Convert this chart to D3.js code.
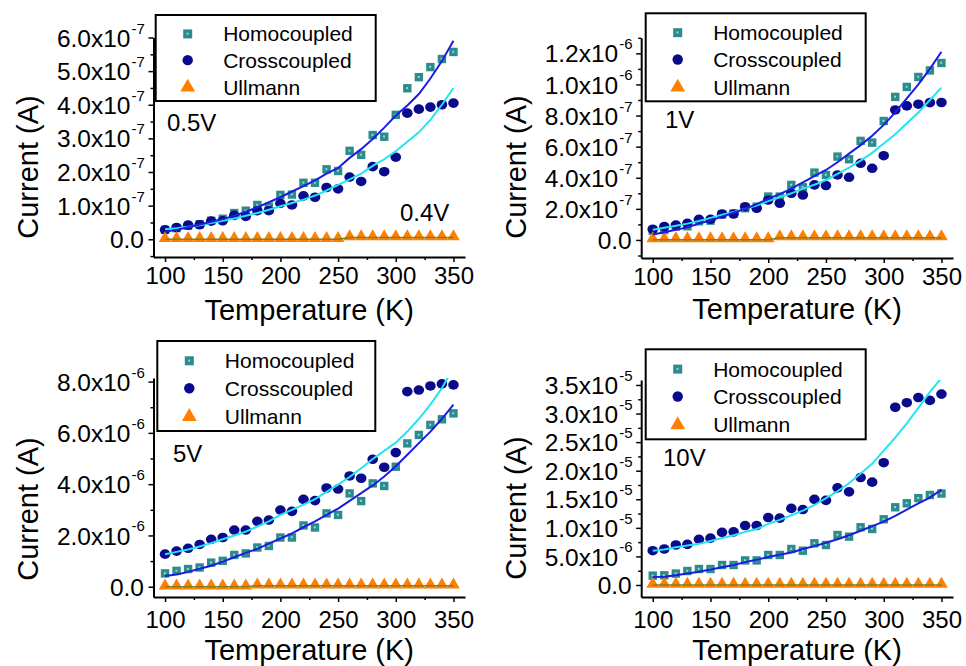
<!DOCTYPE html>
<html><head><meta charset="utf-8">
<script src="https://cdn.jsdelivr.net/npm/d3@7"></script>
<style>
body{margin:0;background:#fff}
svg{display:block}
text{font-family:"Liberation Sans",Arial,Helvetica,sans-serif;fill:#000}
</style>
</head><body>
<svg id="c" width="966" height="666"></svg>
<script>
// ---------------- DATA ----------------
const temperature = [100,110,120,130,140,150,160,170,180,190,200,210,220,230,240,250,260,270,280,290,300,310,320,330,340,350];
const seriesNames = ["Homocoupled","Crosscoupled","Ullmann"];

// Panel 0.5 V (values in units of 1e-7 A)
const homo_05V     = [0.28,0.33,0.40,0.45,0.55,0.61,0.78,0.85,1.02,0.97,1.32,1.33,1.68,1.68,2.08,2.03,2.63,2.51,3.10,3.05,3.70,4.49,4.82,5.12,5.36,5.57];
const cross_05V    = [0.28,0.35,0.42,0.43,0.54,0.55,0.71,0.68,0.85,0.85,1.07,1.02,1.29,1.25,1.54,1.50,1.85,1.72,2.16,2.01,2.44,3.75,3.87,3.93,4.00,4.05];
const homoFit_05V  = [0.22,0.28,0.36,0.44,0.52,0.60,0.70,0.82,0.95,1.10,1.25,1.42,1.58,1.75,1.95,2.12,2.42,2.68,2.98,3.32,3.68,3.98,4.32,4.78,5.30,5.90];
const crossFit_05V = [0.30,0.33,0.37,0.42,0.48,0.55,0.62,0.70,0.78,0.88,0.98,1.08,1.18,1.30,1.45,1.62,1.78,1.95,2.18,2.38,2.62,2.90,3.18,3.55,4.00,4.50];
const ullmann_04V  = [0,0,0,0,0,0,0,0,0,0,0,0,0,0,0,0,0.05,0.05,0.05,0.05,0.05,0.05,0.05,0.05,0.05,0.05];

// Panel 1 V (units of 1e-7 A)
const homo_1V      = [0.60,0.64,0.86,0.88,1.20,1.24,1.65,1.70,2.04,2.14,2.79,2.79,3.54,3.39,4.33,4.18,5.36,5.19,6.37,6.26,7.65,9.20,9.84,10.48,10.90,11.38];
const cross_1V     = [0.69,0.86,0.96,1.07,1.33,1.33,1.67,1.67,2.14,2.04,2.57,2.36,3.00,2.89,3.54,3.50,4.18,4.03,4.93,4.61,5.42,8.36,8.62,8.73,8.83,8.84];
const homoFit_1V   = [0.35,0.50,0.65,0.82,1.05,1.25,1.50,1.75,2.00,2.30,2.65,2.95,3.30,3.70,4.10,4.50,5.00,5.55,6.10,6.70,7.40,8.20,9.10,10.00,11.00,12.10];
const crossFit_1V  = [0.65,0.78,0.92,1.05,1.22,1.42,1.62,1.80,2.00,2.22,2.50,2.75,3.00,3.30,3.55,3.85,4.25,4.65,5.10,5.60,6.20,6.80,7.50,8.20,9.00,9.80];
const ullmann_1V   = [0.02,0.02,0.02,0.02,0.02,0.02,0.02,0.02,0.02,0.02,0.02,0.15,0.15,0.15,0.15,0.15,0.15,0.15,0.15,0.15,0.15,0.15,0.15,0.15,0.15,0.15];

// Panel 5 V (units of 1e-6 A)
const homo_5V      = [0.52,0.62,0.69,0.75,0.94,1.01,1.24,1.30,1.53,1.59,1.92,1.92,2.39,2.31,2.86,2.80,3.64,3.34,4.03,3.93,4.68,5.59,5.92,6.31,6.53,6.76];
const cross_5V     = [1.27,1.39,1.50,1.65,1.85,1.92,2.21,2.21,2.55,2.60,2.99,2.94,3.41,3.36,3.85,3.81,4.32,4.23,4.97,4.66,5.23,7.61,7.67,7.83,7.91,7.87];
const homoFit_5V   = [0.42,0.48,0.58,0.70,0.82,0.98,1.15,1.32,1.48,1.68,1.88,2.08,2.32,2.55,2.80,3.05,3.35,3.65,3.95,4.30,4.70,5.15,5.60,6.05,6.55,7.10];
const crossFit_5V  = [1.27,1.36,1.45,1.57,1.70,1.85,2.00,2.15,2.35,2.55,2.80,3.00,3.20,3.42,3.70,3.98,4.28,4.62,4.98,5.30,5.62,6.05,6.55,7.10,7.75,8.55];
const ullmann_5V   = [0,0,0,0,0,0,0,0,0.04,0.04,0.04,0.04,0.04,0.04,0.04,0.04,0.04,0.04,0.04,0.04,0.04,0.04,0.04,0.04,0.04,0.04];

// Panel 10 V (units of 1e-5 A)
const homo_10V     = [0.163,0.17,0.20,0.245,0.28,0.28,0.35,0.35,0.43,0.43,0.525,0.525,0.63,0.60,0.73,0.70,0.875,0.846,1.01,0.98,1.15,1.36,1.43,1.52,1.575,1.60];
const cross_10V    = [0.60,0.63,0.70,0.71,0.80,0.82,0.92,0.93,1.04,1.04,1.18,1.17,1.34,1.32,1.50,1.48,1.70,1.63,1.88,1.80,2.14,3.11,3.19,3.28,3.23,3.34];
const homoFit_10V  = [0.14,0.145,0.17,0.20,0.23,0.27,0.31,0.35,0.40,0.44,0.49,0.53,0.57,0.63,0.68,0.74,0.80,0.87,0.95,1.03,1.11,1.21,1.32,1.43,1.53,1.67];
const crossFit_10V = [0.60,0.62,0.66,0.69,0.72,0.77,0.82,0.87,0.93,0.98,1.07,1.14,1.22,1.30,1.40,1.52,1.64,1.78,1.95,2.12,2.35,2.58,2.83,3.10,3.38,3.62];
const ullmann_10V  = [0,0,0,0,0,0,0,0,0,0,0,0,0,0,0,0,0,0,0,0,0,0,0,0,0,0];

// Tick values and labels
const xTicks = [100,150,200,250,300,350];
const xMinorTicks = [125,175,225,275,325];
const yTicks_05V = [0,1,2,3,4,5,6];
const yLabels_05V = [["0.0",""],["1.0x10","-7"],["2.0x10","-7"],["3.0x10","-7"],["4.0x10","-7"],["5.0x10","-7"],["6.0x10","-7"]];
const yMinor_05V = [-0.5,0.5,1.5,2.5,3.5,4.5,5.5];
const yTicks_1V = [0,2,4,6,8,10,12];
const yLabels_1V = [["0.0",""],["2.0x10","-7"],["4.0x10","-7"],["6.0x10","-7"],["8.0x10","-7"],["1.0x10","-6"],["1.2x10","-6"]];
const yMinor_1V = [-1,1,3,5,7,9,11,13];
const yTicks_5V = [0,2,4,6,8];
const yLabels_5V = [["0.0",""],["2.0x10","-6"],["4.0x10","-6"],["6.0x10","-6"],["8.0x10","-6"]];
const yMinor_5V = [1,3,5,7];
const yTicks_10V = [0,0.5,1,1.5,2,2.5,3,3.5];
const yLabels_10V = [["0.0",""],["5.0x10","-6"],["1.0x10","-5"],["1.5x10","-5"],["2.0x10","-5"],["2.5x10","-5"],["3.0x10","-5"],["3.5x10","-5"]];
const yMinor_10V = [0.25,0.75,1.25,1.75,2.25,2.75,3.25];

// ---------------- STYLE / LAYOUT ----------------
const C = {homo:"#2a8c8c", homoInner:"#9fd0d0", cross:"#0a0a8c", ull:"#ff8000",
           blue:"#1c1ce0", cyan:"#22e4f2", olive:"#7f8020"};

const panels = [
  {homo:homo_05V, cross:cross_05V, homoFit:homoFit_05V, crossFit:crossFit_05V, ull:ullmann_04V,
   yt:yTicks_05V, yl:yLabels_05V, ym:yMinor_05V,
   x0:153.5, x1:465, yDom:[-0.527,6.0], yRange:[257,37.5], xLabY:27,
   legend:{x:155.7,y:15,w:220,h:86}, notes:[{t:"0.5V",x:167,y:131},{t:"0.4V",x:400,y:221}],
   yTitle:{x:38,y:167}, xTitleY:320},
  {homo:homo_1V, cross:cross_1V, homoFit:homoFit_1V, crossFit:crossFit_1V, ull:ullmann_1V,
   yt:yTicks_1V, yl:yLabels_1V, ym:yMinor_1V,
   x0:641.2, x1:953, yDom:[-1.16,13.0], yRange:[258,37.8], xLabY:27,
   legend:{x:645.7,y:13.3,w:220,h:88}, notes:[{t:"1V",x:665,y:128}],
   yTitle:{x:526,y:167}, xTitleY:319},
  {homo:homo_5V, cross:cross_5V, homoFit:homoFit_5V, crossFit:crossFit_5V, ull:ullmann_5V,
   yt:yTicks_5V, yl:yLabels_5V, ym:yMinor_5V,
   x0:153.5, x1:465, yDom:[-0.40,8.14], yRange:[597,378], xLabY:31,
   legend:{x:157.3,y:341,w:218,h:90}, notes:[{t:"5V",x:173,y:462}],
   yTitle:{x:38,y:509}, xTitleY:660},
  {homo:homo_10V, cross:cross_10V, homoFit:homoFit_10V, crossFit:crossFit_10V, ull:ullmann_10V,
   yt:yTicks_10V, yl:yLabels_10V, ym:yMinor_10V,
   x0:641.2, x1:953, yDom:[-0.21,3.587], yRange:[597,380], xLabY:31,
   legend:{x:645.7,y:349.3,w:220,h:90}, notes:[{t:"10V",x:663,y:466}],
   yTitle:{x:526,y:508}, xTitleY:660}
];

const svg = d3.select("#c");

panels.forEach((p,pi) => {
  const x = d3.scaleLinear().domain([90,360]).range([p.x0,p.x1]);
  const y = d3.scaleLinear().domain(p.yDom).range(p.yRange);
  const g = svg.append("g");
  const yb = p.yRange[0];

  const cid = "clip"+pi;
  svg.append("clipPath").attr("id",cid).append("rect")
    .attr("x",p.x0).attr("y",p.yRange[1]).attr("width",p.x1-p.x0+8).attr("height",yb-p.yRange[1]);

  // X axis
  const xa = g.append("g").attr("transform",`translate(0,${yb})`)
    .call(d3.axisBottom(x).tickValues(xTicks).tickSize(5).tickSizeOuter(0).tickPadding(3).tickFormat(d3.format("d")));
  xa.select(".domain").attr("stroke","#000").attr("stroke-width",2);
  xa.selectAll(".tick line").attr("stroke","#000").attr("stroke-width",1.5);
  xa.selectAll(".tick text").attr("font-size",24).attr("dy",null).attr("y",p.xLabY);
  const xm = g.append("g").attr("transform",`translate(0,${yb})`)
    .call(d3.axisBottom(x).tickValues(xMinorTicks).tickSize(3).tickSizeOuter(0).tickFormat(""));
  xm.select(".domain").remove();
  xm.selectAll(".tick line").attr("stroke","#000").attr("stroke-width",1.5);

  // Y axis
  const ya = g.append("g").attr("transform",`translate(${p.x0},0)`)
    .call(d3.axisLeft(y).tickValues(p.yt).tickSize(5).tickSizeOuter(0).tickFormat(""));
  ya.select(".domain").attr("stroke","#000").attr("stroke-width",2);
  ya.selectAll(".tick line").attr("stroke","#000").attr("stroke-width",1.5);
  ya.selectAll(".tick").each(function(d,i){
    const lab = p.yl[i];
    const t = d3.select(this);
    if (lab[1] === "") {
      t.append("text").attr("x",-9.5).attr("y",8.6).attr("text-anchor","end").attr("font-size",24.5).text(lab[0]);
    } else {
      t.append("text").attr("x",-23).attr("y",8.6).attr("text-anchor","end").attr("font-size",24.5).text(lab[0]);
      t.append("text").attr("x",-22).attr("y",-4.5).attr("text-anchor","start").attr("font-size",15).text(lab[1]);
    }
  });
  const ymn = g.append("g").attr("transform",`translate(${p.x0},0)`)
    .call(d3.axisLeft(y).tickValues(p.ym.filter(v=>v>=p.yDom[0]&&v<=p.yDom[1])).tickSize(3).tickSizeOuter(0).tickFormat(""));
  ymn.select(".domain").remove();
  ymn.selectAll(".tick line").attr("stroke","#000").attr("stroke-width",1.5);

  // Axis titles
  g.append("text").attr("transform",`translate(${p.yTitle.x},${p.yTitle.y}) rotate(-90)`)
    .attr("text-anchor","middle").attr("font-size",29).text("Current (A)");
  g.append("text").attr("x",(p.x0+p.x1)/2).attr("y",p.xTitleY)
    .attr("text-anchor","middle").attr("font-size",29).text("Temperature (K)");

  // markers
  const plot = g.append("g").attr("clip-path",`url(#${cid})`);
  const sq = plot.append("g").selectAll("g").data(temperature.map((t,i)=>[t,p.homo[i]])).join("g")
    .attr("transform",d=>`translate(${x(d[0])},${y(d[1])})`);
  sq.append("rect").attr("x",-4.2).attr("y",-4.2).attr("width",8.4).attr("height",8.4).attr("fill",C.homo);
  sq.append("rect").attr("x",-1.2).attr("y",-1.2).attr("width",2).attr("height",2).attr("fill",C.homoInner);

  plot.append("g").selectAll("ellipse").data(temperature.map((t,i)=>[t,p.cross[i]])).join("ellipse")
    .attr("cx",d=>x(d[0])).attr("cy",d=>y(d[1])).attr("rx",5.3).attr("ry",4.8).attr("fill",C.cross);

  const tri = d3.symbol().type(d3.symbolTriangle).size(70);
  plot.append("g").selectAll("path").data(temperature.map((t,i)=>[t,p.ull[i]])).join("path")
    .attr("d",tri).attr("transform",d=>`translate(${x(d[0])},${y(d[1])-1})`).attr("fill",C.ull);

  // lines
  const line = d3.line().x(d=>x(d[0])).y(d=>y(d[1]));
  plot.append("path").datum(temperature.map((t,i)=>[t,p.ull[i]])).attr("d",line)
    .attr("fill","none").attr("stroke",C.olive).attr("stroke-width",1.5);
  plot.append("path").datum(temperature.map((t,i)=>[t,p.crossFit[i]])).attr("d",line)
    .attr("fill","none").attr("stroke",C.cyan).attr("stroke-width",2);
  plot.append("path").datum(temperature.map((t,i)=>[t,p.homoFit[i]])).attr("d",line)
    .attr("fill","none").attr("stroke",C.blue).attr("stroke-width",2);

  // notes
  p.notes.forEach(n => g.append("text").attr("x",n.x).attr("y",n.y).attr("font-size",24).text(n.t));

  // legend
  const L = p.legend;
  const lg = g.append("g").attr("transform",`translate(${L.x},${L.y})`);
  lg.append("rect").attr("width",L.w).attr("height",L.h).attr("fill","#fff").attr("stroke","#000").attr("stroke-width",2);
  const rowY = [L.h*0.22, L.h*0.525, L.h*0.84];
  seriesNames.forEach((name,i) => {
    const r = lg.append("g").attr("transform",`translate(32,${rowY[i]})`);
    if (i===0) {
      r.append("rect").attr("x",-4.5).attr("y",-4.5).attr("width",9).attr("height",9).attr("fill",C.homo);
      r.append("rect").attr("x",-1.2).attr("y",-1.2).attr("width",2).attr("height",2).attr("fill",C.homoInner);
    } else if (i===1) {
      r.append("circle").attr("r",5.2).attr("fill",C.cross);
    } else {
      r.append("path").attr("d",d3.symbol().type(d3.symbolTriangle).size(95)).attr("fill",C.ull);
    }
    lg.append("text").attr("x",67.5).attr("y",rowY[i]+7.5).attr("font-size",21).text(name);
  });
});
</script>
</body></html>
